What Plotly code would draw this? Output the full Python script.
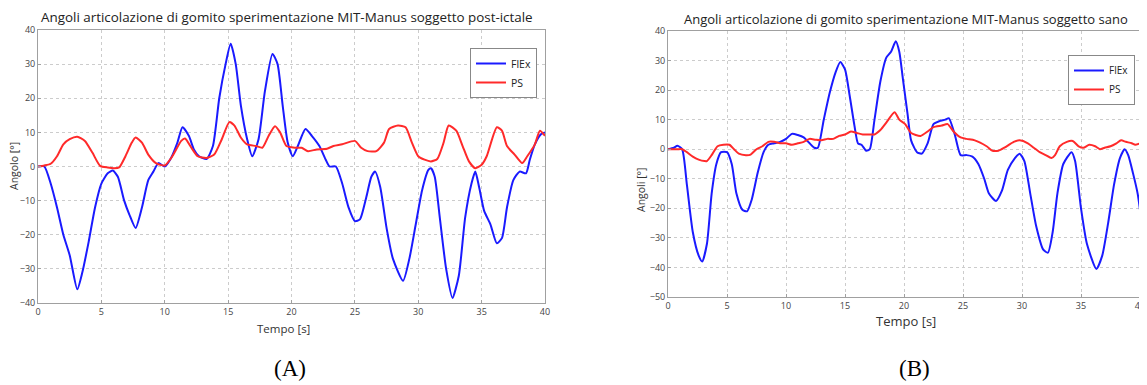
import plotly.graph_objects as go

# ---------------- Data: panel A (post-ictal subject) ----------------
a_flex_t = [0, 0.5, 1, 1.5, 2, 2.5, 3.1, 3.5, 4, 4.5, 5, 5.5, 5.9, 6.3, 6.8, 7.2, 7.7, 8.2, 8.7, 9.1, 9.5,
            10, 10.5, 11, 11.4, 11.9, 12.3, 12.7, 13.3, 13.8, 14.3, 14.8, 15.2, 15.6, 16, 16.5, 16.9, 17.4,
            17.9, 18.5, 18.9, 19.3, 19.7, 20.1, 20.5, 21.1, 21.6, 22.2, 22.7, 23, 23.5, 24, 24.5, 25, 25.4,
            25.9, 26.3, 26.6, 27, 27.5, 28, 28.8, 29.3, 29.8, 30.3, 30.8, 31, 31.3, 31.7, 32.2, 32.7, 33.2,
            33.7, 34.2, 34.5, 34.8, 35.2, 35.7, 36.2, 36.6, 37, 37.5, 38, 38.5, 38.8, 39.2, 39.7, 40]
a_flex_v = [0, 0, -5, -12, -20, -26, -36, -31, -22, -12, -5, -2, -1.2, -3, -10, -14, -18, -12, -4, -1.5, 1,
            0, 2.5, 7, 11.5, 9, 5, 3, 2.2, 6, 20, 30, 36, 30, 18, 8, 3, 8,
            22, 33, 30, 18, 7, 3, 6, 11, 9, 6, 2, 0, 0, -5, -12, -16, -15.5,
            -9, -3, -1.5, -6, -18, -27, -33.5, -27, -17, -7, -1, -0.5, -3, -15, -30, -38.5, -32,
            -15, -5, -1.5, -6, -13, -17, -22.5, -21, -12, -4, -1.5, -2, 2, 6.5, 9.5, 10]
a_ps_t = [0, 0.5, 1, 1.5, 2, 2.5, 3.1, 3.7, 4.3, 4.9, 5.5, 6, 6.4, 6.9, 7.4, 7.7, 8.2, 8.7, 9.3, 10,
          10.6, 11.3, 11.6, 12.1, 12.6, 13.3, 13.9, 14.5, 15.1, 15.5, 16, 16.5, 17.2, 17.7, 18.2, 18.7,
          19.1, 19.6, 20.3, 20.8, 21.3, 22, 22.8, 23.3, 24, 25, 25.5, 26, 26.7, 27.3, 27.7, 28.4, 29,
          29.5, 30, 30.5, 31, 31.5, 32, 32.4, 33, 33.5, 34, 34.5, 35, 35.4, 36.2, 36.6, 37, 37.6, 38.2,
          38.6, 39.2, 39.6, 40]
a_ps_v = [0, 0.3, 0.8, 3, 6.5, 8, 8.7, 7.5, 4, 0.2, -0.3, -0.5, -0.3, 3, 7, 8.5, 7, 3.5, 1, 0.3,
          3, 7.5, 8.2, 5.5, 3, 2.5, 3.5, 8, 13, 12, 8.5, 6.5, 6, 5.5, 9, 11.8,
          10, 6, 5.5, 5.5, 4.5, 5, 5.2, 6, 6.5, 7.5, 5.5, 4.5, 4.5, 7, 11, 12, 11.5,
          7, 3, 2, 1.5, 2.2, 7, 12, 10.5, 6, 1.5, -0.5, 0.5, 3, 11.5, 10.5, 6, 3.5, 1,
          3, 6.5, 10.5, 9]

# ---------------- Data: panel B (healthy subject) ----------------
b_flex_t = [0, 0.5, 0.8, 1.2, 1.6, 2.1, 2.6, 2.9, 3.3, 3.7, 4.1, 4.5, 5, 5.4, 5.8, 6.3, 6.7, 7.1, 7.6,
            8.1, 8.5, 9, 9.5, 10, 10.5, 11, 11.5, 12, 12.4, 12.7, 13.2, 13.7, 14.2, 14.6, 15, 15.4, 15.8,
            16.1, 16.4, 16.8, 17.1, 17.5, 18, 18.5, 18.9, 19.3, 19.6, 19.9, 20.3, 20.6, 21.1, 21.5, 22,
            22.5, 23, 23.5, 23.8, 24.3, 24.8, 25.3, 25.8, 26.3, 26.8, 27.2, 27.8, 28.3, 28.8, 29.4, 29.8,
            30.2, 30.7, 31.2, 31.8, 32.2, 32.6, 33, 33.5, 34.2, 34.5, 35, 35.5, 36.3, 36.8, 37.3, 37.8,
            38.3, 38.7, 39, 39.4, 39.8, 40]
b_flex_v = [0, 0.5, 1.2, 0, -12, -28, -36, -38, -32, -15, -5, -1, -1, -5, -15, -20.5, -21, -17, -8,
            -1, 1.5, 2, 2.5, 3.5, 5.2, 4.8, 4, 2, 0.5, 0.5, 10, 19, 26, 29.5, 27, 18, 8,
            2, 1.5, -0.5, 0, 10, 23, 31, 33, 36.5, 33, 24, 12, 3, -1, -1.5, 2,
            8.5, 9.5, 10, 10.5, 5, -2, -2, -2.5, -5, -10, -15, -17.5, -14, -7, -3, -1.5,
            -4, -15, -26, -34, -35, -28, -15, -5, -1, -4, -20, -32, -40.5, -36, -25, -12,
            -3, 0, -2, -8, -15, -20.5]
b_ps_t = [0, 0.8, 1.2, 1.6, 2.1, 2.6, 3.1, 3.3, 3.7, 4.2, 4.7, 5.2, 5.6, 6, 6.6, 7, 7.5, 8, 8.5, 9,
          9.5, 10, 10.5, 11, 11.5, 12, 12.5, 13, 13.5, 14, 14.5, 15, 15.5, 16, 16.5, 17, 17.5, 18, 18.5,
          19.2, 19.6, 20.1, 20.6, 21.4, 22, 22.5, 23.2, 23.7, 24.2, 24.8, 25.3, 26, 27, 27.5, 28, 28.5,
          29.3, 29.8, 30.5, 31, 31.5, 32, 32.5, 32.8, 33.2, 33.8, 34.3, 34.8, 35.2, 35.7, 36.2, 36.6,
          37, 37.5, 38, 38.4, 38.8, 39.3, 39.6, 40]
b_ps_v = [0, 0, 0, -1, -2.5, -3.5, -4, -4, -2, 1, 1.5, 1.5, 0, -1.5, -2, -1.8, 0, 1, 2.5, 2.5,
          2, 2, 1.5, 2, 2.5, 3.5, 3.2, 3, 3.5, 3.5, 4.5, 5, 6, 5.5, 5, 5, 5, 6.5, 9,
          12.5, 10, 8.5, 5.5, 4.5, 6, 7.5, 8, 8.5, 6, 4, 3.5, 3, 1, -0.5, -0.5, 0.5,
          2.5, 3, 2, 0.5, -1, -2, -3, -2, 1, 2.5, 2.8, 1, 0.5, 1.5, 1, 0,
          0.5, 1, 2, 3, 2.5, 2, 1.5, 2]

a_yticks = [-40, -30, -20, -10, 0, 10, 20, 30, 40]
b_yticks = [-50, -40, -30, -20, -10, 0, 10, 20, 30, 40]
x_ticks = [0, 5, 10, 15, 20, 25, 30, 35, 40]

# page body has an 8px margin: the figure is drawn 8px in from the top-left
OFF = 8
W, H = 1147 - OFF, 385 - OFF
BLUE = "#1a1aff"
RED = "#ff2a2a"
SANS = "Open Sans, Liberation Sans, sans-serif"

fig = go.Figure()
line_b = dict(color=BLUE, width=2, shape="spline", smoothing=0.6)
line_r = dict(color=RED, width=2, shape="spline", smoothing=0.6)
fig.add_trace(go.Scatter(x=a_flex_t, y=a_flex_v, name="FlEx", mode="lines", line=line_b, xaxis="x", yaxis="y", legend="legend"))
fig.add_trace(go.Scatter(x=a_ps_t, y=a_ps_v, name="PS", mode="lines", line=line_r, xaxis="x", yaxis="y", legend="legend"))
fig.add_trace(go.Scatter(x=b_flex_t, y=b_flex_v, name="FlEx", mode="lines", line=line_b, xaxis="x2", yaxis="y2", legend="legend2"))
fig.add_trace(go.Scatter(x=b_ps_t, y=b_ps_v, name="PS", mode="lines", line=line_r, xaxis="x2", yaxis="y2", legend="legend2"))


def px(x):
    return (x - OFF) / W


def py(y):
    return 1 - (y - OFF) / H


axis_common = dict(showline=True, linecolor="#a0a0a0", linewidth=1, mirror=True,
                   showgrid=True, gridcolor="#cccccc", griddash="dot", gridwidth=1,
                   zeroline=False, ticks="inside", ticklen=3, tickcolor="#a0a0a0",
                   automargin=False,
                   tickfont=dict(family=SANS, size=9, color="#444444"))

fig.update_layout(
    width=W, height=H,
    margin=dict(l=0, r=0, t=0, b=0, autoexpand=False),
    paper_bgcolor="white", plot_bgcolor="white",
    xaxis=dict(domain=[px(38), px(545)], range=[0, 40], tickvals=x_ticks, anchor="y", **axis_common),
    yaxis=dict(domain=[py(303), py(30)], range=[-40, 40], tickvals=a_yticks, anchor="x", **axis_common),
    xaxis2=dict(domain=[px(668), px(1140)], range=[0, 40], tickvals=x_ticks, anchor="y2", **axis_common),
    yaxis2=dict(domain=[py(297), py(31)], range=[-50, 40], tickvals=b_yticks, anchor="x2", **axis_common),
    legend=dict(x=px(537), y=py(48), xanchor="right", yanchor="top", bgcolor="white",
                bordercolor="#888888", borderwidth=1, font=dict(family=SANS, size=10.5, color="#222"),
                tracegroupgap=0, itemwidth=30),
    legend2=dict(x=px(1135), y=py(55), xanchor="right", yanchor="top", bgcolor="white",
                 bordercolor="#888888", borderwidth=1, font=dict(family=SANS, size=10, color="#222"),
                 tracegroupgap=0, itemwidth=30),
    showlegend=True,
)

serif = "Liberation Serif, Times New Roman, serif"
ann = [
    dict(text="Angoli articolazione di gomito sperimentazione MIT-Manus soggetto post-ictale",
         x=px(287), y=py(17.5), font=dict(family=SANS, size=13.4, color="#222")),
    dict(text="Angoli articolazione di gomito sperimentazione MIT-Manus soggetto sano",
         x=px(906), y=py(19), font=dict(family=SANS, size=13, color="#222")),
    dict(text="Angolo [°]", x=px(14), y=py(166), textangle=-90,
         font=dict(family=SANS, size=10.5, color="#333")),
    dict(text="Angoli [°]", x=px(641), y=py(190), textangle=-90,
         font=dict(family=SANS, size=10.5, color="#333")),
    dict(text="Tempo [s]", x=px(283), y=py(328), font=dict(family=SANS, size=11.5, color="#333")),
    dict(text="Tempo [s]", x=px(906), y=py(321), font=dict(family=SANS, size=13, color="#333")),
    dict(text="(A)", x=px(290), y=py(368), font=dict(family=serif, size=23, color="black")),
    dict(text="(B)", x=px(914), y=py(368), font=dict(family=serif, size=23, color="black")),
]
for a in ann:
    a.update(xref="paper", yref="paper", showarrow=False, xanchor="center", yanchor="middle", borderpad=0)
fig.update_layout(annotations=ann)

fig.write_html("out.html")
